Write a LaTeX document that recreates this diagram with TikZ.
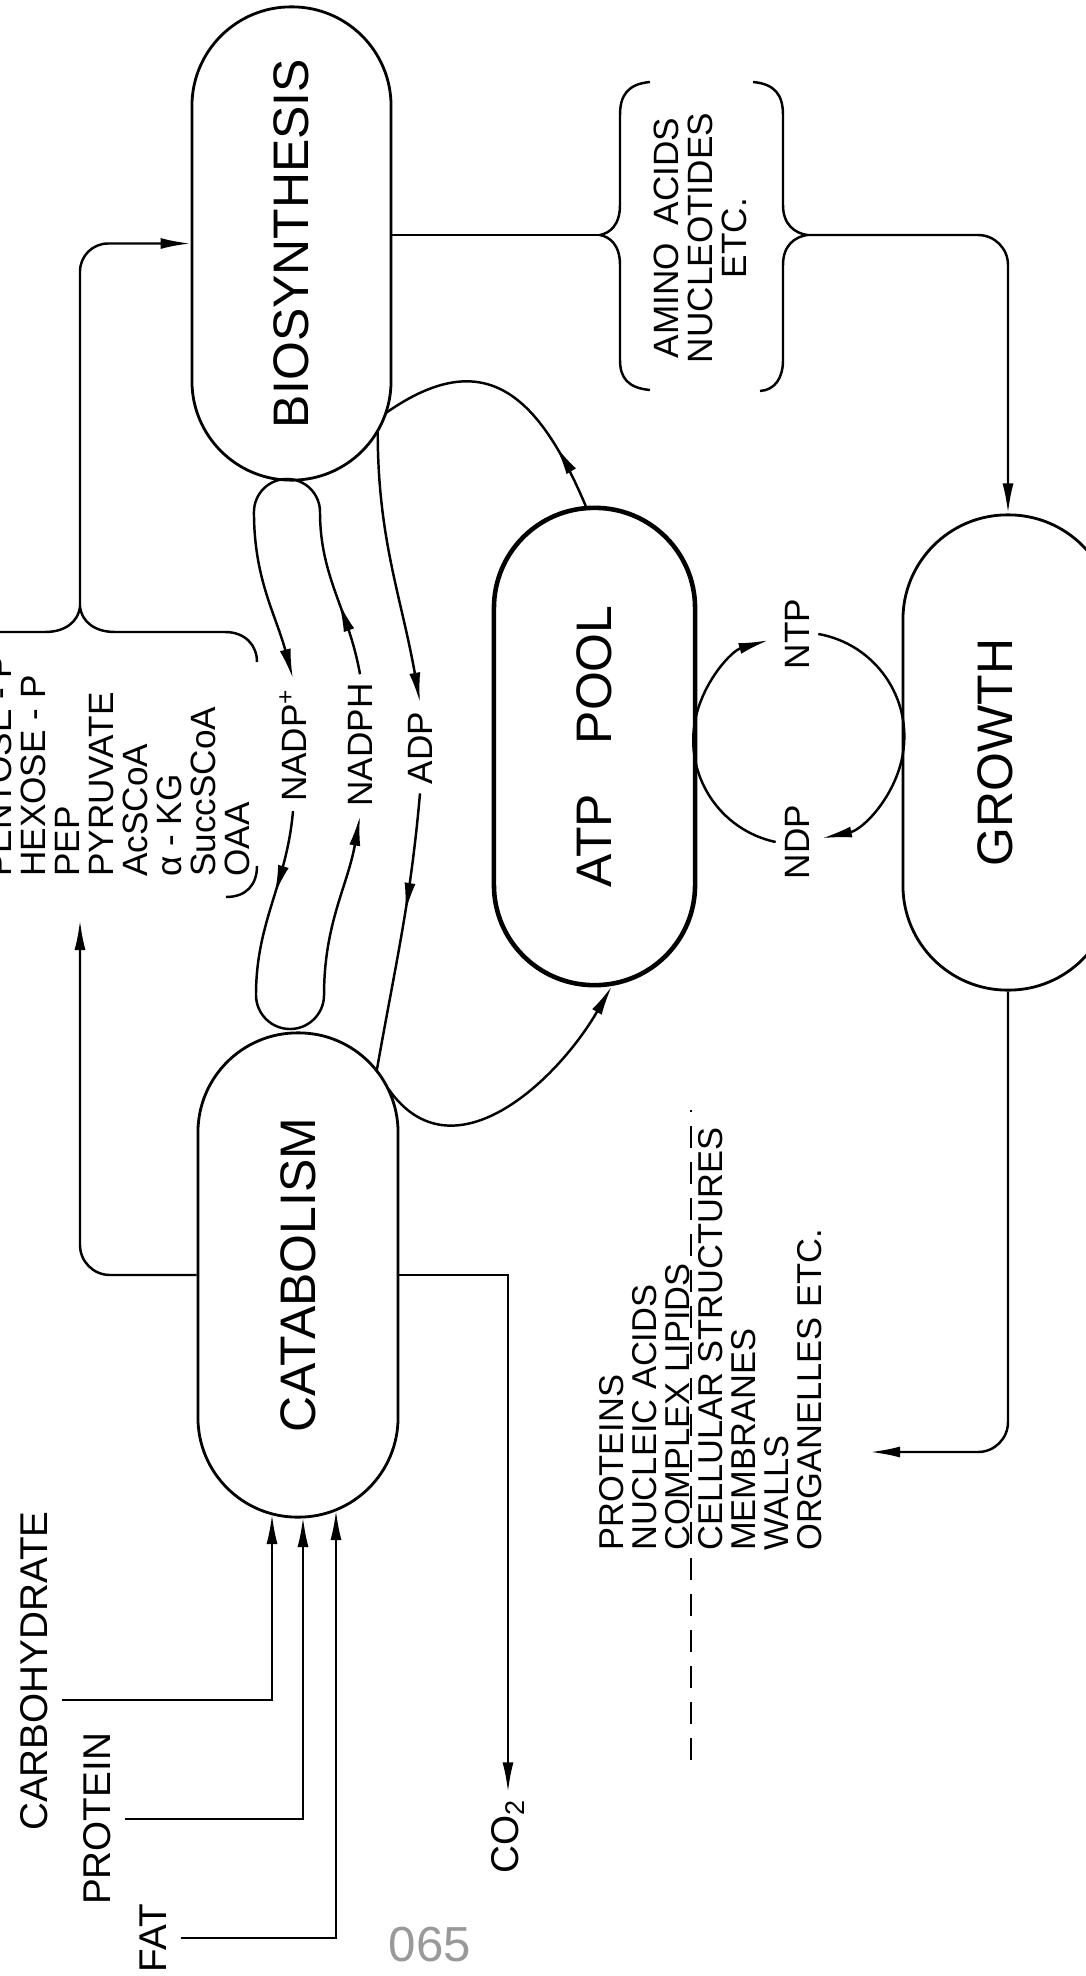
\documentclass[tikz,border=0pt]{standalone}
\usepackage{fontspec}
\setmainfont{Liberation Sans}
\usetikzlibrary{arrows.meta,calc,decorations.markings}
\newcommand{\biglbl}{\fontsize{14.2}{17}\selectfont}
\newcommand{\midlbl}{\fontsize{10}{9.64}\selectfont}
\newcommand{\inlbl}{\fontsize{11}{13}\selectfont}
\begin{document}
\begin{tikzpicture}[x=0.01cm, y=0.01cm, line width=0.7pt,
	>={Latex[length=3mm,width=1.1mm]},
	stadium/.style={draw, line width=0.8pt, inner sep=0pt, font=\biglbl},
	lbl/.style={rotate=90, inner sep=0.08cm, font=\midlbl},
	inlbl/.style={rotate=90, inner sep=0.13cm, font=\inlbl},
	midarr/.style={postaction={decorate}, decoration={markings, mark=at position #1 with {\arrow{>}}}}]
	\useasboundingbox (0,0) rectangle (1086,-1976);
	\clip (0,0) rectangle (1086,-1976);

	\node[stadium, minimum width=1.99cm, minimum height=4.73cm, rounded corners=0.99cm] (bio) at (291.5,-243.5) {\rotatebox{90}{BIOSYNTHESIS}};
	\node[stadium, minimum width=2cm, minimum height=4.84cm, rounded corners=0.995cm] (cat) at (298,-1275) {\rotatebox{90}{CATABOLISM}};
	\node[stadium, line width=1.3pt, minimum width=2.01cm, minimum height=4.77cm, rounded corners=1cm] (atp) at (594.5,-746.5) {\rotatebox{90}{ATP\hspace{0.5cm}POOL}};
	\node[stadium, minimum width=2.1cm, minimum height=4.75cm, rounded corners=1.045cm] (growth) at (1008,-752.5) {\rotatebox{90}{GROWTH}\hspace*{0.25cm}};

	\node[lbl, anchor=north west, align=left, inner sep=0pt] (prec) at (-14,-878) {PENTOSE - P\\HEXOSE - P\\PEP\\PYRUVATE\\AcSCoA\\α - KG\\SuccSCoA\\OAA};
	\node[lbl, align=center, inner sep=0pt] (amino) at (700,-238) {AMINO\enspace ACIDS\\NUCLEOTIDES\\ETC.};
	\node[lbl, anchor=north west, align=left, inner sep=0pt, font=\fontsize{9.8}{9.4}\selectfont] (macro) at (598,-1552) {PROTEINS\\NUCLEIC ACIDS\\COMPLEX LIPIDS\\CELLULAR STRUCTURES\\MEMBRANES\\WALLS\\ORGANELLES ETC.};

	\node[lbl] (nadpp) at (293,-745) {NADP\textsuperscript{+}};
	\node[lbl] (nadph) at (360,-745) {NADPH};
	\node[lbl] (adp) at (420,-748) {ADP};
	\node[lbl] (ntp) at (797,-634) {NTP};
	\node[lbl] (ndp) at (797,-842) {NDP};

	\node[inlbl] (carb) at (34,-1671) {CARBOHYDRATE};
	\node[inlbl] (prot) at (97,-1819) {PROTEIN};
	\node[inlbl] (fat) at (153,-1938) {FAT};
	\node[inlbl, inner sep=0.05cm] (co2) at (508,-1836) {CO\textsubscript{2}};
	\node[text=black!40, font=\fontsize{14}{14}\selectfont] (pgno) at (430,-1945) {065};

	\coordinate (prec-top) at (80,-607);
	\coordinate (prec-in) at (80,-920);
	\coordinate (amino-l) at (600,-235);
	\coordinate (amino-r) at (807,-235);
	\coordinate (macro-in) at (870,-1452);
	\coordinate (in-carb) at (272,-1514);
	\coordinate (in-prot) at (303,-1517);
	\coordinate (in-fat) at (336,-1510);
	\coordinate (bio-a) at ($(bio.south)+(0,0.995cm)+(-18:0.995cm)$);
	\coordinate (bio-b) at ($(bio.south)+(0,0.995cm)+(-30:0.995cm)$);
	\coordinate (cat-a) at ($(cat.north)+(0,-1cm)+(38:1cm)$);
	\coordinate (cat-b) at ($(cat.north)+(0,-1cm)+(25:1cm)$);
	\coordinate (atp-t) at ($(atp.north)+(0,-1.005cm)+(95:1.005cm)$);
	\coordinate (atp-b) at ($(atp.south)+(0,1.005cm)+(-80:1.005cm)$);

	% braces
	\draw (-10,-632) -- (45,-632) .. controls (65,-632) and (78,-622) .. (prec-top) .. controls (82,-622) and (95,-632) .. (115,-632) -- (225,-632) .. controls (245,-632) and (257,-645) .. (257,-662);
	\draw (226,-897) .. controls (246,-897) and (257,-885) .. (257,-866);
	\draw (650,-82) .. controls (628,-84) and (620,-95) .. (620,-115) -- (620,-205) .. controls (620,-225) and (610,-233) .. (amino-l) .. controls (610,-237) and (620,-245) .. (620,-265) -- (620,-360) .. controls (620,-378) and (628,-388) .. (650,-390);
	\draw (753,-82) .. controls (775,-84) and (783,-95) .. (783,-115) -- (783,-205) .. controls (783,-225) and (795,-233) .. (amino-r) .. controls (795,-237) and (783,-245) .. (783,-265) -- (783,-360) .. controls (783,-378) and (775,-390) .. (760,-391);
	\draw[dash pattern=on 0.22cm off 0.14cm] (691,-1760) -- (691,-1110);

	% main flow
	\draw[->, rounded corners=0.28cm] (prec-top) |- (bio.west);
	\draw[->, rounded corners=0.3cm] (cat.west) -| (prec-in);
	\draw (bio.east |- amino-l) -- (amino-l);
	\draw[->, rounded corners=0.3cm] (amino-r) -| (growth.north);
	\draw[->, rounded corners=0.3cm] (growth.south) |- (macro-in);
	\draw[->] (cat.east) -| (co2.east);
	\draw[->] ([yshift=-0.29cm]carb.south) -| (in-carb);
	\draw[->] (prot.south) -| (in-prot);
	\draw[->] (fat.south) -| (in-fat);

	% NADP loop
	\draw[->, midarr=0.17] (nadph.east) to[out=100, in=-90] (320,-512) arc[start angle=0, end angle=180, radius=0.33cm] to[out=-90, in=105] (nadpp.east);
	\draw[->, midarr=0.18] (nadpp.west) to[out=-95, in=90] (256,-995) arc[start angle=180, end angle=360, radius=0.34cm] to[out=90, in=-100] (nadph.west);

	% ATP / ADP
	\draw[midarr=0.25] (atp-t) to[out=113, in=35, looseness=1.4] (bio-a);
	\draw[->] (bio-b) to[out=-90, in=100] (adp.east);
	\draw[midarr=0.43] (adp.west) to[out=-95, in=80] (cat-a);
	\draw[->] (cat-b) to[out=-55, in=-120, looseness=1.15] (atp-b);

	% NTP / NDP
	\draw[->] (ndp.north) arc[start angle=258, end angle=106, radius=1.04cm];
	\draw[->] (ntp.south) arc[start angle=80, end angle=-78, radius=1.04cm];
\end{tikzpicture}
\end{document}
